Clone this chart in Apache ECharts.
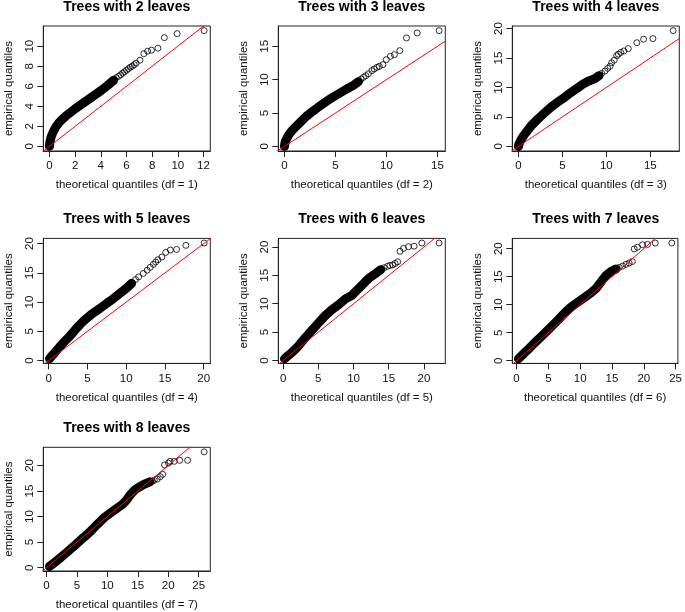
<!DOCTYPE html>
<html><head><meta charset="utf-8">
<script src="https://cdn.jsdelivr.net/npm/echarts@6/dist/echarts.min.js"></script>
<style>html,body{margin:0;padding:0;background:#fff}#c{width:685px;height:612px}</style>
</head><body><div id="c"></div>
<script>
// ---------------- DATA ----------------
const leaves = [2, 3, 4, 5, 6, 7, 8];
const dfs = [1, 2, 3, 4, 5, 6, 7];

const xTicks2 = [0, 2, 4, 6, 8, 10, 12];
const yTicks2 = [0, 2, 4, 6, 8, 10];
const xTicks3 = [0, 5, 10, 15];
const yTicks3 = [0, 5, 10, 15];
const xTicks4 = [0, 5, 10, 15];
const yTicks4 = [0, 5, 10, 15, 20];
const xTicks5 = [0, 5, 10, 15, 20];
const yTicks5 = [0, 5, 10, 15, 20];
const xTicks6 = [0, 5, 10, 15, 20];
const yTicks6 = [0, 5, 10, 15, 20];
const xTicks7 = [0, 5, 10, 15, 20, 25];
const yTicks7 = [0, 5, 10, 15, 20];
const xTicks8 = [0, 5, 10, 15, 20, 25];
const yTicks8 = [0, 5, 10, 15, 20];

// dense (overlapping) part of each QQ plot, [theoretical, empirical]
const dense2 = [[0,0],[0.02,0.3],[0.06,0.6],[0.12,0.9],[0.22,1.25],[0.35,1.6],[0.5,1.95],[0.7,2.3],[0.95,2.65],[1.25,3.0],[1.6,3.35],[2.0,3.75],[2.5,4.2],[3.0,4.65],[3.5,5.1],[4.0,5.55],[4.5,6.05],[5.0,6.6]];
const tail2 = [[5.2,6.85],[5.4,7.0],[5.55,7.15],[5.7,7.3],[5.85,7.45],[6.0,7.6],[6.15,7.75],[6.3,7.9],[6.45,8.0],[6.6,8.15],[6.75,8.3],[7.05,8.6],[7.35,9.25],[7.65,9.5],[7.95,9.6],[8.45,9.8],[8.95,10.85],[9.95,11.25],[12.05,11.55]];

const dense3 = [[0,0],[0.03,0.4],[0.1,0.8],[0.26,1.3],[0.45,1.8],[0.7,2.3],[1.0,2.8],[1.48,3.5],[2.14,4.5],[2.8,5.3],[3.46,6.05],[4.12,6.75],[4.78,7.4],[5.44,8.0],[6.1,8.6],[6.76,9.15],[7.25,9.7]];
const tail3 = [[7.52,10.1],[7.75,10.35],[7.98,10.6],[8.24,10.9],[8.57,11.35],[8.8,11.6],[9.07,11.85],[9.3,12.0],[9.66,12.25],[9.99,13.0],[10.39,13.5],[10.78,13.75],[11.31,14.35],[11.97,16.25],[13.02,17.0],[15.17,17.35]];

const dense4 = [[0,0],[0.04,0.35],[0.11,0.6],[0.25,1.0],[0.42,1.45],[0.65,1.95],[0.88,2.4],[1.45,3.5],[2.21,4.65],[2.98,5.7],[3.74,6.7],[4.5,7.55],[5.27,8.35],[6.03,9.2],[6.8,10.0],[7.37,10.6],[7.94,11.05],[8.7,11.5],[9.16,12.0]];
const tail4 = [[9.47,12.4],[9.85,12.8],[10.15,13.25],[10.42,13.6],[10.6,14.2],[10.9,14.65],[11.18,15.4],[11.37,15.65],[11.64,15.95],[12.0,16.2],[12.5,16.6],[13.47,17.6],[14.24,18.2],[15.3,18.3],[17.6,19.65]];

const dense5 = [[0.1,0.3],[0.17,0.45],[0.4,0.8],[0.65,1.15],[1.0,1.7],[1.39,2.3],[1.8,2.9],[2.26,3.55],[2.7,4.15],[3.13,4.8],[3.55,5.45],[4.0,6.1],[4.45,6.7],[4.87,7.2],[5.3,7.65],[5.7,8.1],[6.6,8.9],[7.5,9.8],[8.35,10.6],[9.2,11.5],[10.1,12.45],[10.7,13.2]];
const tail5 = [[11.2,13.85],[11.6,14.3],[12.2,14.9],[12.7,15.45],[13.1,15.95],[13.5,16.45],[13.8,16.85],[14.1,17.25],[14.6,17.7],[15.1,18.5],[15.7,18.9],[16.5,19.0],[17.7,19.7],[20.05,20.1]];

const dense6 = [[0.2,0.3],[0.33,0.45],[0.7,0.85],[1.2,1.35],[1.65,1.9],[2.15,2.5],[2.6,3.2],[3.1,3.95],[3.6,4.6],[4.07,5.3],[4.55,5.95],[5.02,6.6],[5.5,7.25],[5.98,7.9],[6.94,8.97],[7.9,9.85],[8.85,10.85],[9.8,11.5],[10.5,12.4],[11.24,13.3],[11.7,13.9],[12.2,14.5],[13.16,15.35],[13.87,16.0]];
const tail6 = [[14.35,16.35],[14.83,16.6],[15.17,16.75],[15.55,16.85],[15.9,17.1],[16.27,17.4],[16.6,19.25],[17.1,19.75],[17.8,20.05],[18.6,20.15],[19.7,20.7],[22.15,20.7]];

const dense7 = [[0.3,0.35],[0.8,0.9],[1.3,1.45],[2.0,2.2],[2.6,2.9],[3.4,3.8],[4.43,4.9],[5.47,6.1],[6.5,7.25],[7.55,8.5],[8.6,9.6],[9.6,10.4],[10.7,11.3],[11.7,12.1],[12.5,12.9],[13.3,14.1],[14.06,15.2],[14.84,15.9],[15.6,16.35]];
const tail7 = [[16.15,16.65],[16.67,16.9],[17.2,17.2],[17.7,17.45],[18.2,17.7],[18.5,19.95],[19.0,20.25],[19.8,20.7],[20.6,20.75],[21.8,21.0],[24.4,21.0]];

const dense8 = [[0.5,0.25],[1.0,0.7],[1.6,1.25],[2.2,1.85],[2.8,2.45],[3.4,3.05],[4.0,3.7],[4.6,4.3],[5.2,4.95],[5.8,5.6],[6.6,6.4],[7.4,7.3],[8.2,8.3],[8.8,9.0],[9.6,9.9],[10.7,10.85],[11.8,11.8],[12.6,12.5],[13.2,13.3],[13.8,14.3],[14.6,15.3],[15.4,15.9],[16.2,16.4],[17.0,16.8]];
const tail8 = [[17.4,16.95],[17.7,17.1],[18.2,17.35],[18.7,17.8],[19.1,18.25],[19.4,20.1],[20.05,20.45],[20.3,20.8],[21.0,20.8],[21.9,21.0],[23.2,21.0],[25.9,22.65]];

// reference line y = x (abline(0, 1)), ends beyond every plot range
const identityEnds = [-5, 40];

// ---------------- LAYOUT / STYLE ----------------
const panels = [
  {dense: dense2, tail: tail2, xt: xTicks2, yt: yTicks2},
  {dense: dense3, tail: tail3, xt: xTicks3, yt: yTicks3},
  {dense: dense4, tail: tail4, xt: xTicks4, yt: yTicks4},
  {dense: dense5, tail: tail5, xt: xTicks5, yt: yTicks5},
  {dense: dense6, tail: tail6, xt: xTicks6, yt: yTicks6},
  {dense: dense7, tail: tail7, xt: xTicks7, yt: yTicks7},
  {dense: dense8, tail: tail8, xt: xTicks8, yt: yTicks8}
];
const colLeft = [43.3, 278.3, 512.3];
const rowTop = [26, 238.4, 447.3];
const W = 167, H = 125;
const FONT = '"Liberation Sans", Arial, Helvetica, sans-serif';
const TXT = '#111';

// R-style axis range: data range extended by 4% on each side
function rExt(vals) {
  const lo = Math.min.apply(null, vals), hi = Math.max.apply(null, vals);
  const d = (hi - lo) * 0.04;
  return [lo - d, hi + d];
}

const grids = [], xAxes = [], yAxes = [], series = [], graphics = [];
panels.forEach((p, i) => {
  const left = colLeft[i % 3], top = rowTop[Math.floor(i / 3)];
  const pts = p.dense.concat(p.tail);
  const xr = rExt(pts.map(d => d[0]));
  const yr = rExt(pts.map(d => d[1]));
  grids.push({left: left, top: top, width: W, height: H, show: true,
    borderColor: '#222', borderWidth: 1, backgroundColor: 'rgba(0,0,0,0)', containLabel: false});
  const common = {
    type: 'value', gridIndex: i,
    axisLine: {show: true, onZero: false, lineStyle: {color: '#222', width: 1}},
    splitLine: {show: false},
    nameLocation: 'middle', nameGap: 28,
    nameTextStyle: {fontFamily: FONT, fontSize: 11.5, color: TXT}
  };
  xAxes.push(Object.assign({}, common, {
    min: xr[0], max: xr[1], position: 'bottom',
    name: 'theoretical quantiles (df = ' + dfs[i] + ')',
    axisTick: {show: true, length: 6, inside: false, customValues: p.xt, lineStyle: {color: '#222'}},
    axisLabel: {customValues: p.xt, margin: 9, fontFamily: FONT, fontSize: 11.5, color: TXT}
  }));
  yAxes.push(Object.assign({}, common, {
    min: yr[0], max: yr[1], position: 'left',
    name: 'empirical quantiles',
    axisTick: {show: true, length: 6, inside: false, customValues: p.yt, lineStyle: {color: '#222'}},
    axisLabel: {customValues: p.yt, margin: 7, rotate: 90, fontFamily: FONT, fontSize: 11.5, color: TXT}
  }));
  series.push({
    type: 'line', xAxisIndex: i, yAxisIndex: i, data: p.dense, symbol: 'none', silent: true,
    lineStyle: {color: '#000', width: 9, cap: 'round', join: 'round'}, z: 2, clip: true
  });
  series.push({
    type: 'scatter', xAxisIndex: i, yAxisIndex: i, data: pts, symbol: 'circle', symbolSize: 6,
    itemStyle: {color: 'rgba(0,0,0,0)', borderColor: '#000', borderWidth: 1}, z: 3, silent: true
  });
  series.push({
    type: 'line', xAxisIndex: i, yAxisIndex: i, data: identityEnds.map(v => [v, v]), symbol: 'none',
    lineStyle: {color: '#ff0000', width: 1}, z: 4, clip: true, silent: true
  });
  graphics.push({
    type: 'text', x: left + W / 2, y: top - 19,
    style: {text: 'Trees with ' + leaves[i] + ' leaves', align: 'center', verticalAlign: 'middle',
      font: 'bold 14px ' + FONT, fill: '#000'}
  });
});

const chart = echarts.init(document.getElementById('c'), null, {renderer: 'canvas'});
chart.setOption({
  animation: false,
  backgroundColor: '#ffffff',
  grid: grids, xAxis: xAxes, yAxis: yAxes, series: series, graphic: graphics
});
</script></body></html>
